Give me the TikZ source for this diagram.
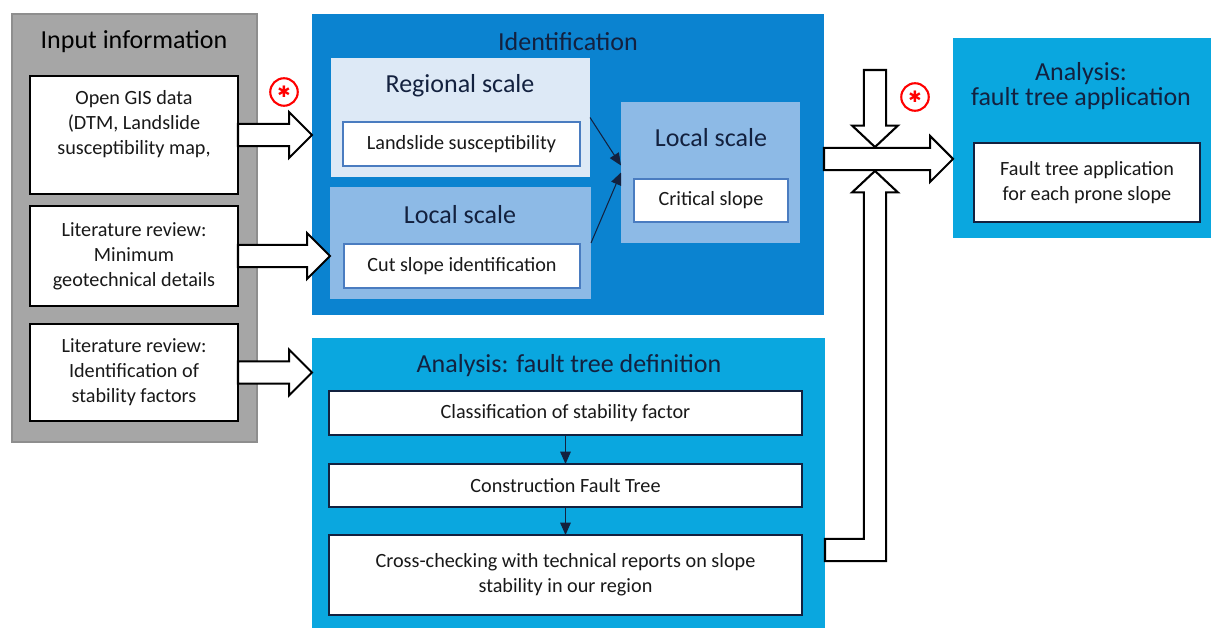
\documentclass[tikz,border=0pt]{standalone}
\usepackage{fontspec}
\setmainfont{Carlito}
\newfontfamily\symbolfont{DejaVu Sans}
\usetikzlibrary{fit,calc,arrows.meta}

\definecolor{panelgray}{HTML}{A6A6A6}
\definecolor{panelline}{HTML}{8E8E8E}
\definecolor{identblue}{HTML}{0B83D0}
\definecolor{paleblue}{HTML}{DDE9F6}
\definecolor{midblue}{HTML}{8DBAE6}
\definecolor{cyanblue}{HTML}{0AA7DF}
\definecolor{navy}{HTML}{13213F}
\definecolor{cardblue}{HTML}{4A7CC0}

% block arrows (shaft 22px, head 46px)
\newcommand{\fatright}[2]{%
  \draw[fatarrow] let \p1=#1, \p2=#2 in
    (\x1,\y1+6.3pt) -- (\x2-13pt,\y1+6.3pt) -- (\x2-13pt,\y1+13pt) -- (\x2,\y1)
    -- (\x2-13pt,\y1-13pt) -- (\x2-13pt,\y1-6.3pt) -- (\x1,\y1-6.3pt) -- cycle;}
\newcommand{\fatdown}[2]{%
  \draw[fatarrow] let \p1=#1, \p2=#2 in
    (\x1-6.3pt,\y1) -- (\x1-6.3pt,\y2+19pt) -- (\x1-13pt,\y2+19pt) -- (\x1,\y2+6.8pt)
    -- (\x1+13pt,\y2+19pt) -- (\x1+6.3pt,\y2+19pt) -- (\x1+6.3pt,\y1) -- cycle;}
\newcommand{\fatup}[2]{%
  \draw[fatarrow] let \p1=#1, \p2=#2 in
    (\x1,\y1+6.3pt) -- (\x2-6.3pt,\y1+6.3pt) -- (\x2-6.3pt,\y2-19pt) -- (\x2-13pt,\y2-19pt)
    -- (\x2,\y2-6.8pt) -- (\x2+13pt,\y2-19pt) -- (\x2+6.3pt,\y2-19pt)
    -- (\x2+6.3pt,\y1-6.3pt) -- (\x1,\y1-6.3pt) -- cycle;}

\begin{document}
\begin{tikzpicture}[x=0.02cm, y=-0.02cm,
    panel/.style={rectangle, inner sep=0pt, outer sep=0pt},
    card/.style={rectangle, draw, fill=white, inner sep=0pt, outer sep=0pt},
    cardtext/.style={align=center, text=black!90, inner sep=0pt, font=\fontsize{11.5}{14.2}\selectfont},
    heading/.style={align=center, text=navy, font=\fontsize{14.8}{17}\selectfont},
    link/.style={draw=navy, line width=0.6pt, -{Triangle[length=7pt,width=6pt]}},
    fatarrow/.style={draw=black, line width=1.2pt, fill=white, line join=miter},
    redmark/.style={circle, draw=red, line width=1.2pt, minimum size=0.55cm, inner sep=0pt,
      text=red, font=\symbolfont\fontsize{9}{9}\selectfont}]

    \useasboundingbox (0,0) rectangle (1211,628);

    % Input information
    \node[panel, fill=panelgray, draw=panelline, line width=1.2pt, fit={(12,14) (257,442)}] (input) {};
    \node[heading, text=black] (inputT) at (134,42) {Input information};
    \node[card, line width=0.9pt, fit={(30,76) (238,194)},
        label={[cardtext]center:Open GIS data\\(DTM, Landslide\\susceptibility map,\\\mbox{}}] (in1) {};
    \node[card, line width=0.9pt, fit={(30,206) (238,306)},
        label={[cardtext]center:Literature review:\\Minimum\\geotechnical details}] (in2) {};
    \node[card, line width=0.9pt, fit={(30,324) (238,421)},
        label={[cardtext]center:Literature review:\\Identification of\\stability factors}] (in3) {};

    % Identification
    \node[panel, fill=identblue, fit={(312,14) (824,315)}] (ident) {};
    \node[heading] (identT) at (568,42) {Identification};
    \node[panel, fill=paleblue, fit={(331,58) (590,177)}] (regional) {};
    \node[heading] (regionalT) at (460,86) {Regional scale};
    \node[card, draw=cardblue, line width=0.8pt, fit={(343,122) (580,166)},
        label={[cardtext]center:Landslide susceptibility}] (landslide) {};
    \node[panel, fill=midblue, fit={(330,187) (591,299)}] (localL) {};
    \node[heading] (localLT) at (460,215) {Local scale};
    \node[card, draw=cardblue, line width=0.8pt, fit={(344,244) (580,288)},
        label={[cardtext]center:Cut slope identification}] (cutslope) {};
    \node[panel, fill=midblue, fit={(621,102) (800,243)}] (localR) {};
    \node[heading] (localRT) at (711,138) {Local scale};
    \node[card, draw=cardblue, line width=0.8pt, fit={(634,179) (788,222)},
        label={[cardtext]center:Critical slope}] (critical) {};

    \draw[link] (regional.east) -- ($(localR.west)+(0,-7)$);
    \draw[link] (localL.east) -- (localR.west);

    % Analysis: fault tree definition
    \node[panel, fill=cyanblue, fit={(312,338) (825,628)}] (def) {};
    \node[heading] (defT) at (569,366) {Analysis: fault tree definition};
    \node[card, draw=navy, line width=1pt, fit={(329,391) (802,435)},
        label={[cardtext]center:Classification of stability factor}] (classif) {};
    \node[card, draw=navy, line width=1pt, fit={(329,464) (802,507)},
        label={[cardtext]center:Construction Fault Tree}] (construct) {};
    \node[card, draw=navy, line width=1pt, fit={(329,535) (802,615)},
        label={[cardtext]center:Cross-checking with technical reports on slope\\stability in our region}] (cross) {};

    \draw[link] (classif.south) -- (construct.north);
    \draw[link] (construct.south) -- (cross.north);

    % Analysis: fault tree application
    \node[panel, fill=cyanblue, fit={(953,38) (1211,238)}] (appl) {};
    \node[heading, font=\fontsize{14.8}{14.5}\selectfont] (applT) at (1081,86) {Analysis:\\fault tree application};
    \node[card, draw=navy, line width=1pt, fit={(974,143) (1200,222)},
        label={[cardtext]center:Fault tree application\\for each prone slope}] (faultapp) {};

    % Block arrows
    \coordinate (hub) at (875,159);
    \coordinate (feed) at (875,70);
    \coordinate (ret) at (825,550);
    \fatright{(in1.east)}{(ident.west |- in1.east)}
    \fatright{(in2.east)}{(localL.west |- in2.east)}
    \fatright{(in3.east)}{(def.west |- in3.east)}
    \fatright{(ident.east |- hub)}{(appl.west |- hub)}
    \fatdown{(feed)}{(hub)}
    \fatup{(ret)}{(hub)}

    % Marks
    \node[redmark] (mark1) at (284,92) {✱};
    \node[redmark] (mark2) at (915,97) {✱};

\end{tikzpicture}
\end{document}
